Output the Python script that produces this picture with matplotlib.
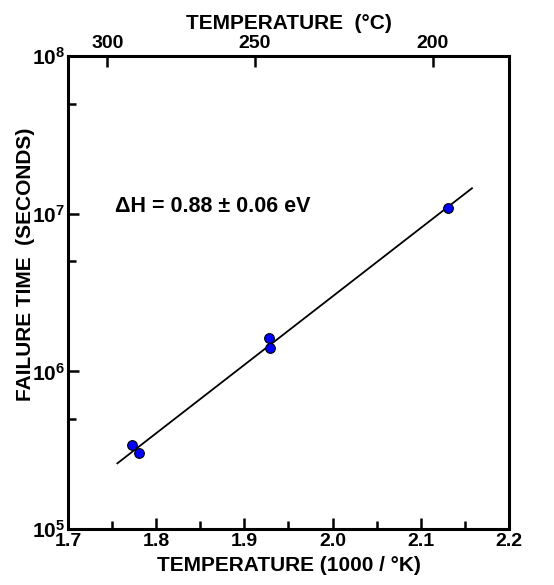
import matplotlib
matplotlib.use("Agg")
import matplotlib.pyplot as plt
from matplotlib.ticker import FixedLocator, FixedFormatter, NullFormatter

plt.rcParams["font.family"] = ["Liberation Sans", "DejaVu Sans"]
plt.rcParams["font.weight"] = "bold"
plt.rcParams["mathtext.fontset"] = "custom"
plt.rcParams["mathtext.rm"] = "Liberation Sans:bold"
plt.rcParams["mathtext.bf"] = "Liberation Sans:bold"

# измеренные точки (1000/T, время отказа в секундах)
inv_temp = [1.773, 1.780, 1.928, 1.929, 2.131]
fail_time = [3.40e5, 3.04e5, 1.62e6, 1.41e6, 1.09e7]

# линия аппроксимации (концы)
fit_x = [1.756, 2.158]
fit_y = [2.61e5, 1.45e7]

x_ticks = [1.7, 1.8, 1.9, 2.0, 2.1, 2.2]
x_labels = ["1.7", "1.8", "1.9", "2.0", "2.1", "2.2"]
x_minor = [1.75, 1.85, 1.95, 2.05, 2.15]
y_ticks = [1e5, 1e6, 1e7, 1e8]
y_labels = [r"$\mathbf{10^{5}}$", r"$\mathbf{10^{6}}$", r"$\mathbf{10^{7}}$", r"$\mathbf{10^{8}}$"]
y_minor = [5e5, 5e6, 5e7]
celsius_ticks = [300, 250, 200]

annotation = "ΔH = 0.88 ± 0.06 eV"


def main():
    fig = plt.figure(figsize=(5.54, 5.85), dpi=100)
    ax = fig.add_axes([0.1227, 0.0957, 0.7961, 0.8085])

    ax.plot(fit_x, fit_y, color="black", lw=1.3, zorder=2)
    ax.plot(inv_temp, fail_time, "o", color="#0000ff", mec="black",
            mew=0.8, ms=7, zorder=3)

    ax.set_yscale("log")
    ax.set_xlim(1.7, 2.2)
    ax.set_ylim(1e5, 1e8)

    ax.xaxis.set_major_locator(FixedLocator(x_ticks))
    ax.xaxis.set_major_formatter(FixedFormatter(x_labels))
    ax.xaxis.set_minor_locator(FixedLocator(x_minor))
    ax.yaxis.set_major_locator(FixedLocator(y_ticks))
    ax.yaxis.set_major_formatter(FixedFormatter(y_labels))
    ax.yaxis.set_minor_locator(FixedLocator(y_minor))
    ax.yaxis.set_minor_formatter(NullFormatter())

    ax.tick_params(which="both", direction="in", width=1.8, top=False, right=False,
                   labelsize=14, pad=3)
    ax.tick_params(axis="y", labelsize=15, pad=2)
    ax.tick_params(which="major", length=8)
    ax.tick_params(which="minor", length=5.5)
    for spine in ax.spines.values():
        spine.set_linewidth(2.2)

    ax.set_xlabel("TEMPERATURE (1000 / °K)", fontsize=15, fontweight="bold", labelpad=4)
    ax.set_ylabel("FAILURE TIME  (SECONDS)", fontsize=15, fontweight="bold")
    ax.yaxis.set_label_coords(-0.075, 0.56)

    # верхняя ось в градусах Цельсия
    top = ax.secondary_xaxis(
        "top",
        functions=(lambda x: 1000.0 / x - 273.15, lambda c: 1000.0 / (c + 273.15)),
    )
    top.set_xticks(celsius_ticks)
    top.set_xticklabels([str(c) for c in celsius_ticks])
    top.tick_params(direction="in", length=8, width=1.8, labelsize=14, pad=3)
    top.set_xlabel("TEMPERATURE  (°C)", fontsize=15, fontweight="bold", labelpad=4)

    ax.text(0.107, 0.681, annotation, transform=ax.transAxes, fontsize=15.5,
            fontweight="bold", va="center", ha="left")

    fig.savefig("out.png", dpi=100)


if __name__ == "__main__":
    main()
